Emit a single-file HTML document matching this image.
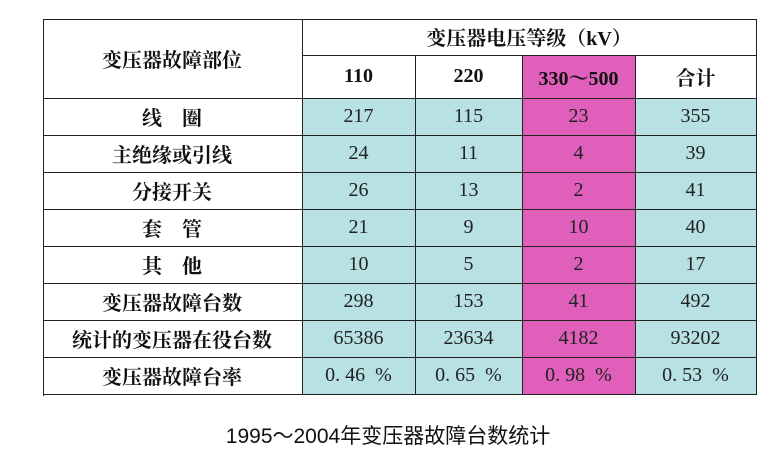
<!DOCTYPE html>
<html><head><meta charset="utf-8">
<style>
body{margin:0;background:#fff;width:776px;height:455px;position:relative;overflow:hidden}
.c{position:absolute;box-sizing:border-box;display:flex;align-items:center;justify-content:center;font-family:"Liberation Serif","Noto Serif CJK SC",serif;font-size:20px;color:#222;border-right:1.5px solid #222;border-bottom:1.5px solid #222;white-space:pre}
.b{font-weight:bold;color:#111}
.t{background:#b8e1e3}.m{background:#df5fba}
#tbl{position:absolute;left:43px;top:19px;width:714px;height:377px;border-left:1.5px solid #222;border-top:1.5px solid #222;box-sizing:border-box}
#cap{position:absolute;left:0;width:776px;top:420px;text-align:center;font-family:"Liberation Sans","Noto Sans CJK SC",sans-serif;font-size:21px;color:#111}
</style></head><body>
<div id="tbl"></div>
<div id="cap">1995～2004年变压器故障台数统计</div>
<script>
const rowLabels=["线　圈","主绝缘或引线","分接开关","套　管","其　他","变压器故障台数","统计的变压器在役台数","变压器故障台率"];
const colLabels=["110","220","330～500","合计"];
const v110=["217","24","26","21","10","298","65386","0.46 %"];
const v220=["115","11","13","9","5","153","23634","0.65 %"];
const v330=["23","4","2","10","2","41","4182","0.98 %"];
const vTotal=["355","39","41","40","17","492","93202","0.53 %"];
const cols=[v110,v220,v330,vTotal];
const xs=[0,260,373,480,593,714];
const T=document.getElementById('tbl');
function cell(x,y,w,h,txt,cls,name){
  const d=document.createElement('div');
  d.className='c '+cls;
  d.style.left=(x-1.5)+'px';d.style.top=(y-1.5)+'px';d.style.width=w+'px';d.style.height=h+'px';
  d.textContent=txt;
  
  
  T.appendChild(d);
}
cell(0,0,260,80,"变压器故障部位",'b',"header-fault-location");
cell(260,0,454,37,"变压器电压等级（kV）",'b',"header-voltage-level");
colLabels.forEach((c,i)=>cell(xs[i+1],37,xs[i+2]-xs[i+1],43,c,'b'+(i==2?' m':''),"header-col-"+i));
rowLabels.forEach((r,j)=>{
  const y=80+j*37;
  cell(0,y,260,37,r,'b',"row-label-"+j);
  cols.forEach((col,i)=>cell(xs[i+1],y,xs[i+2]-xs[i+1],37,col[j].replace(' %','  %').replace('0.','0. '),i==2?'m':'t',"cell-r"+j+"-c"+i));
});
</script>
</body></html>
